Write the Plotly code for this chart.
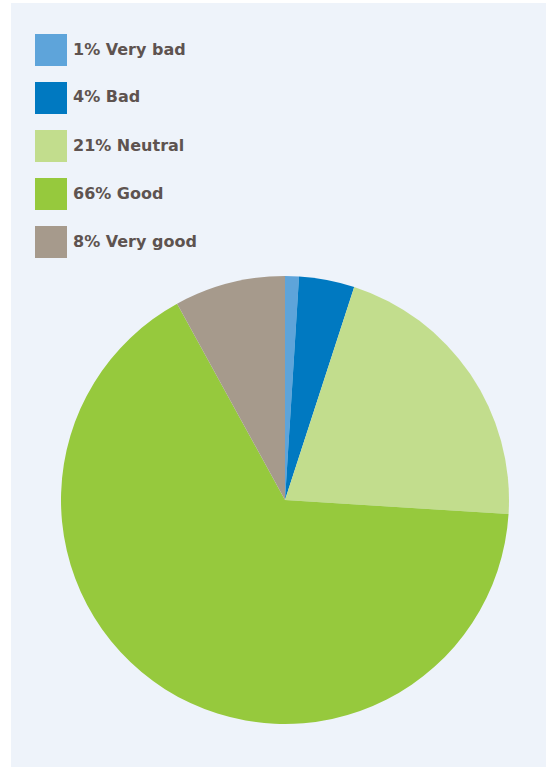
import plotly.graph_objects as go

# Survey answers, in order around the pie (clockwise from 12 o'clock)
categories = ["Very bad", "Bad", "Neutral", "Good", "Very good"]
shares = [1, 4, 21, 66, 8]
colors = ["#5ea4da", "#0079c1", "#c2dd8d", "#96c93d", "#a69a8c"]

W, H = 546, 767

fig = go.Figure()
fig.add_trace(go.Pie(
    labels=categories,
    values=shares,
    sort=False,
    direction="clockwise",
    rotation=0,
    textinfo="none",
    hoverinfo="label+percent",
    marker=dict(colors=colors, line=dict(width=0)),
    domain=dict(x=[61 / W, 509 / W], y=[1 - 724 / H, 1 - 276 / H]),
    showlegend=False,
))

shapes = [
    # light panel behind the chart
    dict(type="rect", xref="paper", yref="paper",
         x0=11 / W, x1=1, y0=0, y1=1 - 3 / H,
         fillcolor="#eef3fa", line=dict(width=0), layer="below"),
]
annotations = []
for i, (cat, val, col) in enumerate(zip(categories, shares, colors)):
    top = 34 + 48 * i
    shapes.append(dict(type="rect", xref="paper", yref="paper",
                       x0=35 / W, x1=67 / W, y0=1 - (top + 32) / H, y1=1 - top / H,
                       fillcolor=col, line=dict(width=0)))
    annotations.append(dict(xref="paper", yref="paper",
                            x=71 / W, y=1 - (top + 15) / H,
                            xanchor="left", yanchor="middle",
                            text=f"{val}% {cat}", showarrow=False,
                            font=dict(family="DejaVu Sans", size=16, weight="bold",
                                      color="#5e5350")))

fig.update_layout(
    width=W, height=H,
    margin=dict(l=0, r=0, t=0, b=0),
    paper_bgcolor="white",
    plot_bgcolor="white",
    shapes=shapes,
    annotations=annotations,
)

fig.write_html("out.html")
